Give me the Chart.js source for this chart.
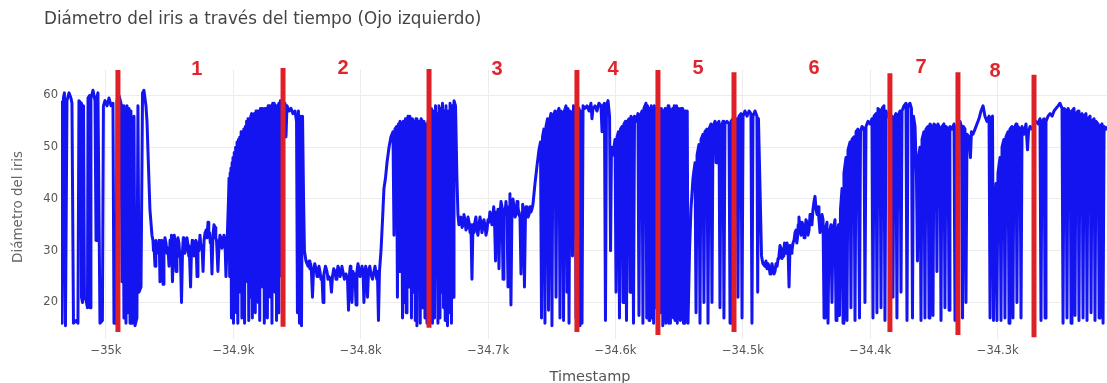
<!DOCTYPE html>
<html>
<head>
<meta charset="utf-8">
<script src="https://cdn.jsdelivr.net/npm/chart.js@4.4.1/dist/chart.umd.min.js"></script>
<style>
  html, body { margin: 0; padding: 0; background: #fff; }
  canvas { display: block; }
</style>
</head>
<body>
<canvas id="grafico" width="1107" height="383"></canvas>
<script>
// Diámetro del iris (ojo izquierdo) — lecturas [timestamp, diámetro]
const tramoInicial = [
  [-35035.3,59],[-35034.5,16],[-35033.4,59.5],[-35032.6,60.5],[-35031.8,15.5],[-35030.6,59],[-35029.0,60.5],
  [-35027.5,59.5],[-35026.7,58.5],[-35025.5,16],[-35023.5,16.5],[-35022.0,16],[-35021.2,59],[-35019.6,58.5],
  [-35019.2,21],[-35018.4,20],[-35017.6,58],[-35016.9,21],[-35015.7,20.5],[-35014.5,19],[-35014.1,59.5],
  [-35012.9,60],[-35012.5,19],[-35011.8,59.5],[-35010.2,61],[-35008.6,59],[-35007.8,32],[-35007.2,59.5],
  [-35006.3,60.5],[-35004.7,16],[-35002.8,16.5],[-35002.0,58],[-35000.8,59],[-34999.2,58],[-34997.6,59.5],
  [-34996.0,58],[-34994.5,58.5],[-34993.7,16],[-34992.1,16],[-34991.3,59],[-34989.8,60],[-34988.2,58.5],
  [-34987.4,24],[-34986.6,58],[-34985.9,17],[-34985.1,57],[-34984.3,16],[-34983.5,58],[-34982.7,18],
  [-34981.9,57.5],[-34981.1,16],[-34980.4,57],[-34979.2,16],[-34978.0,56],[-34977.2,15.5],[-34975.7,17],
  [-34974.9,58],[-34974.1,22],[-34972.5,23],[-34971.3,60.5],[-34970.2,61],[-34968.6,58],[-34967.8,55],
  [-34967.0,49],[-34965.5,38],[-34963.9,33]
];
const meseta1 = [
  [-34963.1,32],[-34962.7,30],[-34962.3,31],[-34961.5,27],[-34960.8,32],[-34960.2,29.5],[-34959.6,31],
  [-34958.8,30],[-34958.2,32],[-34957.6,24],[-34956.8,31.5],[-34956.4,29.5],[-34956.0,32],[-34955.2,23.5],
  [-34954.5,30],[-34953.7,32.5],[-34952.9,31.5],[-34952.1,29.5],[-34951.3,30.5],[-34950.5,27],[-34949.7,32],
  [-34949.1,30],[-34948.6,33],[-34947.8,24],[-34947.0,31],[-34946.4,33],[-34945.8,32],[-34945.0,26],
  [-34944.3,30],[-34943.5,32.5],[-34942.7,31.5],[-34942.1,29],[-34941.5,28.5],[-34940.7,20],[-34939.9,30],
  [-34939.3,32.5],[-34938.8,32],[-34938.0,29.5],[-34937.2,30.5],[-34936.4,32.5],[-34935.6,31],[-34935.0,29],
  [-34934.4,29],[-34933.6,23],[-34932.9,30],[-34932.3,32],[-34931.7,31],[-34930.9,29],[-34930.1,30],
  [-34929.3,32],[-34928.5,25],[-34927.8,31.5],[-34927.0,30],[-34926.2,33],[-34925.4,30.5],[-34924.6,31],
  [-34923.8,26],[-34923.0,32],[-34922.2,33.5],[-34921.5,34],[-34920.7,32.5],[-34919.9,35.5],[-34919.3,33],
  [-34918.7,33.5],[-34918.1,31.5],[-34917.6,32.5],[-34916.8,25.5],[-34916.0,33],[-34915.2,35],[-34914.4,34.5],
  [-34913.8,32.5],[-34913.2,32],[-34912.1,26],[-34911.3,31],[-34910.5,33],[-34909.7,32.5],[-34909.0,30.5],
  [-34908.2,31],[-34907.4,33],[-34906.6,32],[-34905.8,25],[-34905.0,31]
];
const subida1 = [
  [-34903.8,40],[-34903.4,44],[-34902.9,25],[-34902.5,45],[-34901.9,46],[-34901.5,17],[-34901.0,47],
  [-34900.3,48],[-34899.9,16],[-34899.3,49],[-34898.7,20],[-34898.2,50],[-34897.6,18],[-34897.1,51],
  [-34896.5,16],[-34896.0,51.5],[-34895.5,27],[-34895.0,52],[-34894.4,22],[-34893.9,53],[-34893.3,17],
  [-34892.8,53],[-34892.3,19],[-34891.8,53.5],[-34891.2,16],[-34890.6,54],[-34890.1,30],[-34889.6,55],
  [-34889.0,24],[-34888.5,55.5],[-34887.9,16.5],[-34887.4,55.5],[-34886.9,21],[-34886.3,56],[-34885.6,56.5],
  [-34885.1,17],[-34884.5,56],[-34883.9,26],[-34883.4,56.5],[-34882.8,18],[-34882.2,57],[-34881.6,25],
  [-34881.0,57],[-34880.5,20],[-34879.9,57],[-34879.3,16.5],[-34878.7,57.5],[-34878.1,29],[-34877.5,57.5],
  [-34876.9,23],[-34876.3,57],[-34875.7,16],[-34875.1,57.5],[-34874.5,19],[-34873.9,57.5],[-34873.3,17],
  [-34872.7,58],[-34872.1,24],[-34871.5,58],[-34870.9,21],[-34870.3,58],[-34869.7,16],[-34869.1,58.5],
  [-34868.5,27],[-34867.9,58.5],[-34867.3,22],[-34866.7,58],[-34866.1,16.5],[-34865.5,58],[-34864.9,18],
  [-34864.3,58.5],[-34863.7,25],[-34863.1,59],[-34862.6,58.5],[-34861.1,58],[-34859.5,58.5],[-34858.7,52],
  [-34857.9,58],[-34856.3,57],[-34854.8,57.5],[-34853.2,56.5],[-34851.6,57],[-34850.4,55],[-34849.7,18],
  [-34848.9,57],[-34848.1,16],[-34847.3,56],[-34846.5,15.5],[-34845.7,56],[-34844.9,40],[-34844.2,30],
  [-34843.0,28]
];
const meseta2 = [
  [-34841.4,27],[-34840.6,28],[-34839.9,26.5],[-34839.3,27.5],[-34838.7,26],[-34837.9,21],[-34837.1,26],
  [-34836.1,27.5],[-34835.1,26.5],[-34834.3,25],[-34833.6,25.5],[-34832.8,27],[-34832.0,26],[-34831.2,24.5],
  [-34830.4,25],[-34829.6,20],[-34828.9,25.5],[-34827.7,27],[-34826.5,26],[-34825.7,24.5],[-34824.9,25],
  [-34823.8,24.5],[-34823.0,22],[-34822.2,25],[-34821.2,26.5],[-34820.2,26],[-34819.4,24.5],[-34818.7,25.5],
  [-34817.9,27],[-34817.1,26.5],[-34816.3,25],[-34815.5,25.5],[-34814.8,27],[-34814.0,26],[-34812.8,24.5],
  [-34811.6,25.5],[-34810.4,24.5],[-34809.6,18.5],[-34808.8,25.5],[-34808.2,27],[-34807.7,26.5],[-34806.9,20],
  [-34806.1,26],[-34805.3,24.5],[-34804.5,25.5],[-34803.7,19.5],[-34803.0,26],[-34802.2,27.5],[-34801.4,26.5],
  [-34800.6,25],[-34799.8,25.5],[-34799.0,27],[-34798.2,26],[-34797.5,20],[-34796.7,25.5],[-34796.1,27],
  [-34795.5,26],[-34794.7,21],[-34793.9,26],[-34792.9,27],[-34792.0,25.5],[-34790.8,24.5],[-34789.6,26],
  [-34788.8,27],[-34788.0,25.5],[-34787.4,24.5],[-34786.9,26],[-34786.1,16.5],[-34785.3,26],[-34784.1,30],
  [-34782.9,36],[-34781.8,42],[-34780.6,44]
];
const subida2 = [
  [-34779.4,47],[-34777.8,50],[-34776.3,52],[-34774.7,53],[-34773.9,33],[-34773.1,53.5],[-34771.9,54],
  [-34771.2,21],[-34770.4,54.5],[-34769.8,26],[-34769.2,55],[-34768.0,54.5],[-34767.2,17],[-34766.5,55],
  [-34765.7,20],[-34764.9,55.5],[-34764.3,18],[-34763.7,55],[-34762.9,56],[-34762.1,23],[-34761.5,56],
  [-34760.9,55],[-34760.2,17],[-34759.4,55.5],[-34758.6,22],[-34757.8,55],[-34757.2,16.5],[-34756.6,55.5],
  [-34755.9,15.5],[-34755.1,55],[-34754.5,24],[-34753.9,55],[-34753.3,16],[-34752.6,55.5],[-34751.9,55],
  [-34751.2,19],[-34750.4,55],[-34749.6,17],[-34748.8,54.5],[-34748.0,16],[-34747.2,55],[-34746.4,21],
  [-34745.7,57],[-34745.1,18],[-34744.5,57.5],[-34743.7,16],[-34742.9,57],[-34742.1,17],[-34741.3,58],
  [-34740.7,26],[-34740.2,56.5],[-34739.4,16],[-34738.6,58],[-34737.8,17],[-34737.0,57.5],[-34736.4,22],
  [-34735.8,58.5],[-34735.0,19],[-34734.3,57],[-34733.7,16.5],[-34733.1,58],[-34732.5,20],[-34731.9,15.5],
  [-34731.1,57],[-34730.5,18],[-34729.9,58.5],[-34728.8,16],[-34728.0,58],[-34727.4,21],[-34726.8,59],
  [-34725.6,58],[-34724.5,44],[-34723.7,37],[-34722.9,35]
];
const meseta3 = [
  [-34721.3,36.5],[-34720.5,34.5],[-34719.7,35],[-34719.0,37],[-34718.2,36],[-34717.4,34],[-34716.6,34.5],
  [-34715.8,36.5],[-34715.0,35.5],[-34714.2,33.5],[-34713.5,35],[-34712.7,24.5],[-34711.9,35],[-34711.1,33.5],
  [-34710.4,35.5],[-34709.6,36.5],[-34708.8,34],[-34708.0,33],[-34707.2,35],[-34706.4,36.5],[-34705.6,35.5],
  [-34704.9,33.5],[-34704.1,34.5],[-34703.3,36],[-34702.5,35],[-34701.7,33],[-34700.9,34],[-34700.1,36],
  [-34699.4,35.5],[-34698.6,37.5],[-34697.8,36.5],[-34697.0,35],[-34696.2,37],[-34695.6,38.5],[-34695.0,36],
  [-34694.2,28],[-34693.4,37.5],[-34692.9,36],[-34692.3,38],[-34691.5,26.5],[-34690.7,37],[-34689.9,39.5],
  [-34689.1,38.5],[-34688.3,24.5],[-34687.6,38],[-34686.8,37],[-34686.0,39.5],[-34685.2,37],[-34684.4,23],
  [-34683.6,38.5],[-34682.9,41],[-34682.1,19.5],[-34681.3,38],[-34680.5,40],[-34679.7,38.5],[-34678.9,36.5],
  [-34678.1,37],[-34677.3,39.5],[-34676.6,38.5],[-34675.8,37],[-34675.0,36.5],[-34674.2,25.5],[-34673.4,37.5],
  [-34672.9,39],[-34672.3,38],[-34671.5,23],[-34670.7,37],[-34670.1,38.5],[-34669.5,38],[-34668.7,36.5],
  [-34667.9,37],[-34667.1,38.5],[-34666.4,37.5],[-34665.6,38],[-34664.8,39],[-34663.2,43],[-34661.6,46.5],
  [-34660.1,49.5]
];
const parpadeos1 = [
  [-34658.9,51],[-34658.1,17],[-34657.3,52],[-34656.2,53.5],[-34655.4,16],[-34654.6,54],[-34653.4,55.5],
  [-34652.6,18.5],[-34651.8,55],[-34650.7,56.5],[-34649.9,15.5],[-34649.1,56],[-34647.5,57],[-34646.7,21],
  [-34645.9,56.5],[-34644.4,57.5],[-34643.6,17],[-34642.8,57],[-34641.6,56.5],[-34640.8,16.5],[-34640.1,57],
  [-34638.9,58],[-34638.1,22],[-34637.3,57.5],[-34636.5,16],[-34635.7,57],[-34634.6,56.5],[-34633.8,29],
  [-34633.0,58],[-34631.8,57],[-34631.0,17],[-34630.3,58],[-34628.7,57.5],[-34627.9,15.5],[-34627.1,57],
  [-34626.3,16],[-34625.5,58],[-34624.0,57.5],[-34622.4,58],[-34620.8,57],[-34619.3,58.5],[-34618.5,55.5],
  [-34617.7,57.5],[-34616.1,58],[-34614.6,57],[-34613.0,58.5],[-34611.4,58],[-34610.6,53],[-34609.8,58],
  [-34608.7,58.5],[-34607.9,16.5],[-34607.1,58],[-34605.9,59],[-34604.7,56],[-34603.9,30],[-34603.2,50],
  [-34602.0,48.5],[-34601.2,50],[-34600.4,51.5],[-34599.6,22],[-34598.8,52],[-34597.7,53],[-34596.9,17],
  [-34596.1,53.5],[-34594.9,54],[-34594.1,20],[-34593.4,54.5],[-34592.2,55],[-34591.4,16.5],[-34590.6,55],
  [-34589.4,55.5],[-34588.6,22],[-34587.9,56],[-34586.7,55.5],[-34585.9,16],[-34585.1,56],[-34583.9,55],
  [-34582.4,56.5],[-34581.6,17.5],[-34580.8,56],[-34579.2,57],[-34578.5,16],[-34577.7,57.5],[-34576.1,58.5],
  [-34575.5,17],[-34574.9,58],[-34574.3,57.5],[-34573.7,16.5],[-34573.1,57.5],[-34572.5,21],[-34571.9,58],
  [-34571.3,17],[-34570.7,57],[-34570.1,16],[-34569.5,58],[-34568.9,19],[-34568.3,57.5],[-34567.7,57.5],
  [-34567.1,16.5],[-34566.5,57.5],[-34565.9,23],[-34565.3,57],[-34564.7,18],[-34564.1,57.5],[-34563.5,57],
  [-34562.9,15.5],[-34562.3,57],[-34561.7,17],[-34561.1,57.5],[-34560.5,16],[-34559.9,57],[-34559.3,20],
  [-34558.7,58],[-34558.1,16],[-34557.5,57.5],[-34556.9,16],[-34556.3,57],[-34555.7,18],[-34555.1,57.5],
  [-34554.5,17],[-34553.9,58],[-34553.3,16.5],[-34552.7,57.5],[-34552.1,58],[-34551.5,16],[-34550.9,57.5],
  [-34550.3,19],[-34549.7,57],[-34549.1,16.5],[-34548.5,57.5],[-34547.9,17],[-34547.3,57.5],[-34546.7,16],
  [-34546.1,57],[-34545.5,16],[-34544.9,57],[-34544.3,17],[-34543.7,57],[-34543.1,16]
];
const parpadeos2 = [
  [-34541.9,30],[-34540.8,38],[-34539.2,44],[-34537.6,47],[-34536.8,18],[-34536.0,48.5],[-34534.5,50.5],
  [-34533.7,16],[-34532.9,51.5],[-34531.3,52.5],[-34530.6,20],[-34529.8,53],[-34528.2,53.5],[-34527.4,16],
  [-34526.6,53.5],[-34525.1,54.5],[-34524.3,20],[-34523.5,54],[-34521.9,55],[-34521.1,47],[-34520.4,54.5],
  [-34518.8,55],[-34518.0,19],[-34517.2,54],[-34515.6,55],[-34514.9,17],[-34514.1,54.5],[-34512.5,55],
  [-34510.9,54.5],[-34510.1,16],[-34509.4,55],[-34507.8,55.5],[-34506.2,54.5],[-34504.6,55.5],[-34503.9,21],
  [-34503.1,56],[-34501.5,56.5],[-34500.7,17],[-34499.9,56],[-34498.4,57],[-34496.8,56],[-34495.2,57],
  [-34493.7,56.5],[-34492.9,16],[-34492.1,56],[-34490.5,57],[-34489.0,56],[-34488.4,22],[-34487.8,55.5],
  [-34485.4,29],[-34484.3,27.5]
];
const meseta4 = [
  [-34482.7,27],[-34481.9,28],[-34481.1,26.5],[-34480.3,27.5],[-34479.5,27],[-34478.7,25.5],[-34478.0,26],
  [-34477.2,27.5],[-34476.4,26.5],[-34475.6,25.5],[-34474.8,26],[-34474.0,27.5],[-34473.2,27],[-34472.4,28.5],
  [-34471.7,29],[-34470.9,31],[-34470.1,30.5],[-34469.3,28.5],[-34468.5,29],[-34467.9,30],[-34467.3,31.5],
  [-34466.7,29.5],[-34466.2,30],[-34465.4,31.5],[-34464.6,30.5],[-34463.8,23],[-34463.0,31],[-34462.2,29.5],
  [-34461.5,30],[-34460.7,31.5],[-34459.9,32],[-34459.1,33.5],[-34458.3,34],[-34457.7,31.5],[-34457.2,32.5],
  [-34456.6,35],[-34456.0,36.5],[-34455.2,34],[-34454.4,33],[-34453.6,35.5],[-34452.8,35],[-34452.0,32.5],
  [-34451.3,33.5],[-34450.5,36],[-34449.7,35.5],[-34448.9,33],[-34448.1,34],[-34447.3,37],[-34446.6,36.5],
  [-34445.8,35],[-34445.0,38],[-34444.2,39.5],[-34443.4,40.5],[-34442.6,38],[-34441.8,37],[-34441.0,38.5],
  [-34440.3,36],[-34439.5,33.5],[-34438.7,34.5],[-34437.9,37],[-34437.1,36],[-34436.3,17],[-34435.6,34],
  [-34434.0,35.5],[-34433.2,16],[-34432.4,33],[-34430.9,35],[-34430.1,20],[-34429.3,34],[-34427.7,36],
  [-34426.9,16.5],[-34426.2,33],[-34425.0,35],[-34424.2,17.5],[-34423.4,38],[-34422.2,42],[-34421.4,16],
  [-34420.7,45],[-34419.1,48],[-34418.3,16.5],[-34417.5,49.5],[-34415.9,51],[-34415.2,19],[-34414.4,51.5],
  [-34412.8,52],[-34412.0,16.5],[-34411.2,53],[-34409.7,53.5],[-34408.5,17],[-34407.7,53],[-34406.5,54],
  [-34404.9,53.5],[-34404.2,20],[-34403.4,54],[-34401.8,55],[-34400.3,54.5],[-34398.7,55.5],[-34397.9,17],
  [-34397.1,56]
];
const parpadeos3 = [
  [-34395.5,56.5],[-34394.8,18],[-34394.0,57.5],[-34392.4,57],[-34391.6,19],[-34390.8,57.5],[-34389.3,58],
  [-34388.5,16.5],[-34387.7,57],[-34386.1,56],[-34384.6,55.5],[-34383.0,56],[-34382.2,21],[-34381.4,55.5],
  [-34379.9,56.5],[-34379.1,17],[-34378.3,56],[-34376.7,57],[-34375.9,22],[-34375.1,57],[-34373.6,58],
  [-34372.0,58.5],[-34371.2,16.5],[-34370.4,58],[-34368.9,58.5],[-34367.7,57.5],[-34366.9,17],[-34366.1,56],
  [-34364.9,54],[-34363.8,45],[-34363.0,28],[-34362.2,48],[-34361.0,50],[-34360.2,16.5],[-34359.4,51.5],
  [-34357.9,53],[-34357.1,17],[-34356.3,53.5],[-34354.7,54],[-34353.9,17],[-34353.2,54.5],[-34351.6,54],
  [-34350.8,17.5],[-34350.0,54.5],[-34348.4,54],[-34347.7,26],[-34346.9,54.5],[-34345.3,53.5],[-34344.5,16.5],
  [-34343.7,54],[-34342.2,54.5],[-34341.4,19],[-34340.6,54],[-34339.0,53.5],[-34338.2,18.5],[-34337.5,54],
  [-34335.9,53.5],[-34334.3,54.5],[-34333.5,16.5],[-34332.7,54],[-34331.2,53.5],[-34329.6,55],[-34328.4,54],
  [-34327.6,17],[-34326.9,54],[-34325.7,53.5],[-34324.9,20],[-34324.1,52.5],[-34322.5,52],[-34321.4,48],
  [-34320.6,53],[-34319.4,52.5],[-34317.8,53.5],[-34316.3,54.5],[-34314.7,55.5],[-34313.1,57],[-34311.5,58],
  [-34310.0,56],[-34308.4,55],[-34306.8,56],[-34306.0,17],[-34305.2,55.5],[-34304.1,56],[-34303.3,16.5],
  [-34302.5,38],[-34301.3,43],[-34300.6,16.5],[-34299.8,45],[-34298.2,48],[-34297.4,16.5],[-34296.6,50]
];
const parpadeos4 = [
  [-34295.1,51.5],[-34294.3,17],[-34293.5,52],[-34291.9,53],[-34291.1,16],[-34290.4,53.5],[-34288.8,54],
  [-34288.0,17],[-34287.2,53.5],[-34285.6,54.5],[-34284.9,20],[-34284.1,54],[-34282.5,53.5],[-34281.7,17],
  [-34280.9,54],[-34279.4,52.5],[-34277.8,54.5],[-34276.6,49.5],[-34275.8,53],[-34274.6,54],[-34273.0,53.5],
  [-34271.5,54.5],[-34269.9,55],[-34268.3,54.5],[-34266.8,55.5],[-34266.0,16.5],[-34265.2,55],[-34263.6,55.5],
  [-34262.8,17],[-34262.1,55],[-34260.5,56],[-34258.9,56.5],[-34257.3,56],[-34255.8,57],[-34254.2,57.5],
  [-34252.6,58],[-34251.1,58.5],[-34249.5,57.5],[-34248.7,16],[-34247.9,57.5],[-34246.4,57],[-34245.6,17],
  [-34244.8,57.5],[-34243.2,56.5],[-34242.4,16],[-34241.7,57],[-34240.1,57.5],[-34239.3,17.5],[-34238.5,56.5],
  [-34236.9,57],[-34236.2,16.5],[-34235.4,56],[-34233.8,56.5],[-34233.0,17],[-34232.2,56],[-34230.7,56.5],
  [-34229.9,16.5],[-34229.1,55.5],[-34227.5,56],[-34226.7,18],[-34225.9,55],[-34224.4,55.5],[-34223.6,16.5],
  [-34222.8,55],[-34221.2,54.5],[-34220.4,17],[-34219.7,54],[-34218.1,54.5],[-34217.3,16],[-34216.5,54],
  [-34214.9,53.5],[-34213.3,54]
];

// Marcas verticales que separan los segmentos del registro
const marcaTiempo   = [-34990.6, -34861.0, -34746.4, -34630.3, -34566.7, -34507.0, -34384.6, -34331.2, -34271.5];
const marcaSuperior = [64.9, 65.3, 65.1, 64.9, 64.9, 64.5, 64.3, 64.5, 64.0];
const marcaInferior = [14.3, 15.3, 15.1, 14.3, 13.7, 14.3, 14.3, 13.7, 13.3];

// Número de cada segmento
const etiquetas      = ['1', '2', '3', '4', '5', '6', '7', '8'];
const etiquetaTiempo = [-34928.6, -34813.9, -34693.0, -34602.0, -34535.3, -34444.2, -34360.2, -34302.1];
const etiquetaNivel  = [65.1, 65.3, 65.1, 65.0, 65.2, 65.2, 65.4, 64.7];

// Ejes
const xTicks = [-35000, -34900, -34800, -34700, -34600, -34500, -34400, -34300];
const yTicks = [20, 30, 40, 50, 60];
const xRango = [-35035.3, -34214.2];
const yRango = [13, 65];

const titulo = 'Diámetro del iris a través del tiempo (Ojo izquierdo)';
const tituloX = 'Timestamp';
const tituloY = 'Diámetro del iris';

const lecturas = [].concat(tramoInicial, meseta1, subida1, meseta2, subida2, meseta3,
                           parpadeos1, parpadeos2, meseta4, parpadeos3, parpadeos4);

function formatoK(v) {
  const k = Math.abs(v) / 1000;
  const s = (Math.round(k * 10) / 10).toString() + 'k';
  return (v < 0 ? '\u2212' : '') + s;
}

const datasetsMarcas = marcaTiempo.map((t, i) => ({
  data: [{ x: t, y: marcaSuperior[i] }, { x: t, y: marcaInferior[i] }],
  borderColor: '#df2127',
  borderWidth: 5,
  pointRadius: 0,
  borderCapStyle: 'butt',
  clip: false,
  order: 0
}));

const datasetDiametro = {
  data: lecturas.map(p => ({ x: p[0], y: p[1] })),
  borderColor: '#1414f0',
  borderWidth: 3,
  borderJoinStyle: 'round',
  pointRadius: 0,
  pointHitRadius: 0,
  tension: 0,
  order: 1
};

const textos = {
  id: 'textos',
  afterDraw(chart) {
    const ctx = chart.ctx;
    const sx = chart.scales.x, sy = chart.scales.y;
    ctx.save();
    // título
    ctx.fillStyle = '#444';
    ctx.font = '16.8px "DejaVu Sans"';
    ctx.textAlign = 'left';
    ctx.textBaseline = 'alphabetic';
    ctx.fillText(titulo, 44, 23.5);
    // título del eje x
    ctx.fillStyle = '#555';
    ctx.font = '14.5px "DejaVu Sans"';
    ctx.textAlign = 'center';
    ctx.fillText(tituloX, 590, 380.5);
    // título del eje y
    ctx.save();
    ctx.translate(18, 207);
    ctx.rotate(-Math.PI / 2);
    ctx.fillStyle = '#666';
    ctx.font = '13.5px "DejaVu Sans"';
    ctx.textBaseline = 'middle';
    ctx.fillText(tituloY, 0, 0);
    ctx.restore();
    // números de segmento
    ctx.fillStyle = '#e0262c';
    ctx.font = 'bold 20px "Liberation Sans"';
    ctx.textAlign = 'center';
    ctx.textBaseline = 'middle';
    etiquetas.forEach((txt, i) => {
      ctx.fillText(txt, sx.getPixelForValue(etiquetaTiempo[i]), sy.getPixelForValue(etiquetaNivel[i]));
    });
    ctx.restore();
  }
};

new Chart(document.getElementById('grafico'), {
  type: 'line',
  data: { datasets: [...datasetsMarcas, datasetDiametro] },
  options: {
    responsive: false,
    animation: false,
    devicePixelRatio: 1,
    layout: { padding: { top: 69.6, left: 0, right: 0, bottom: 0 } },
    plugins: { legend: { display: false }, tooltip: { enabled: false }, title: { display: false } },
    scales: {
      x: {
        type: 'linear',
        min: xRango[0],
        max: xRango[1],
        afterFit(s) { s.height = 44.3; },
        afterBuildTicks(s) { s.ticks = xTicks.map(v => ({ value: v })); },
        ticks: {
          callback: v => formatoK(v),
          font: { family: 'DejaVu Sans', size: 11.5 },
          color: '#555',
          padding: 5,
          maxRotation: 0,
          autoSkip: false
        },
        grid: { color: '#ececec', drawTicks: false },
        border: { display: false }
      },
      y: {
        type: 'linear',
        min: yRango[0],
        max: yRango[1],
        afterFit(s) { s.width = 61; },
        afterBuildTicks(s) { s.ticks = yTicks.map(v => ({ value: v })); },
        ticks: {
          font: { family: 'DejaVu Sans', size: 11.5 },
          color: '#555',
          padding: 3
        },
        grid: { color: '#ececec', drawTicks: false },
        border: { display: false }
      }
    }
  },
  plugins: [textos]
});
</script>
</body>
</html>
